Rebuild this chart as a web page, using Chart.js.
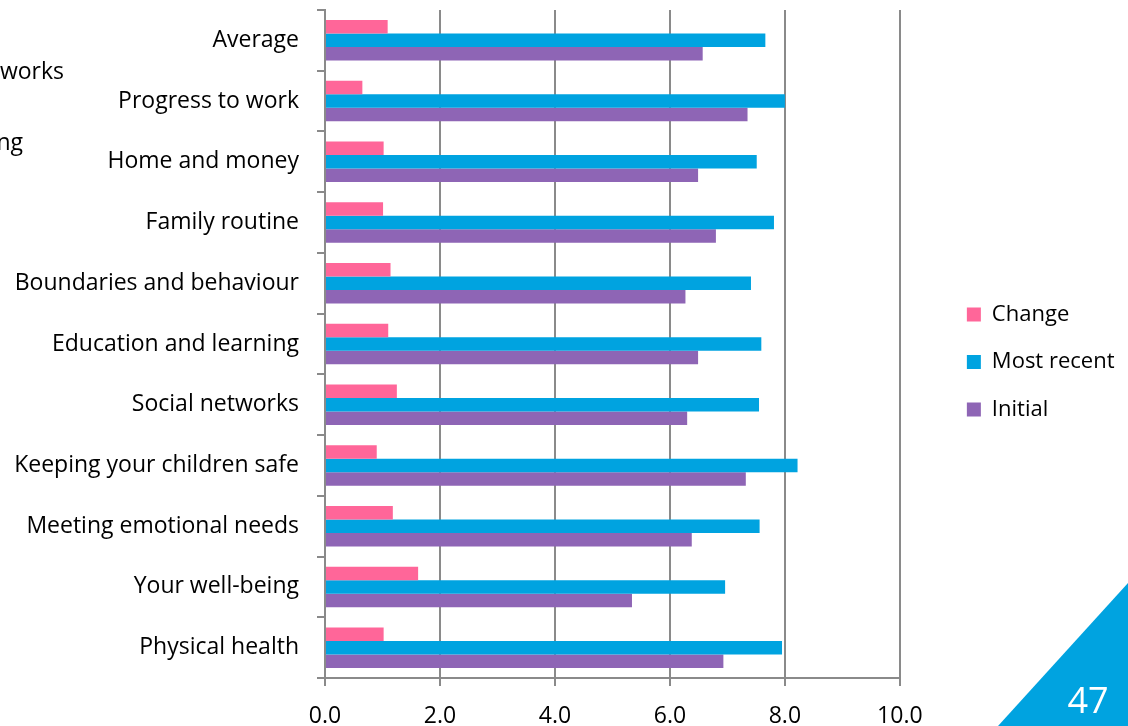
<!DOCTYPE html>
<html>
<head>
<meta charset="utf-8">
<script src="https://cdn.jsdelivr.net/npm/chart.js@4"></script>
<style>
  html, body { margin: 0; padding: 0; background: #fff; overflow: hidden; }
  #wrap { position: relative; width: 1128px; height: 726px; }
  #chart { position: absolute; left: 0; top: 0; }
  .stray { position: absolute; font-family: 'Open Sans', sans-serif; font-size: 23px; line-height: 30px; color: #000; text-align: right; white-space: nowrap; }
  #corner { position: absolute; left: 998px; top: 583px; width: 130px; height: 143px; background: #00a3e0; clip-path: polygon(100% 0, 100% 100%, 0 100%); }
  #page { position: absolute; left: 1060px; top: 678px; width: 56px; text-align: center; font-family: 'Open Sans', sans-serif; font-size: 36px; line-height: 44px; color: #fff; }
</style>
</head>
<body>
<div id="wrap">
  <canvas id="chart" width="1128" height="726"></canvas>
  <div class="stray" style="left:-300px; width:364px; top:55px;">Social networks</div>
  <div class="stray" style="left:-300px; width:323px; top:126px;">Education and learning</div>
  <div id="corner"></div>
  <div id="page">47</div>
</div>
<script>
// categorias de cima para baixo
const categories = ['Average', 'Progress to work', 'Home and money', 'Family routine',
    'Boundaries and behaviour', 'Education and learning', 'Social networks',
    'Keeping your children safe', 'Meeting emotional needs', 'Your well-being', 'Physical health'];

const changeValues = [1.09, 0.65, 1.02, 1.01, 1.14, 1.10, 1.25, 0.90, 1.18, 1.62, 1.02];
const mostRecentValues = [7.66, 8.00, 7.51, 7.81, 7.41, 7.59, 7.55, 8.22, 7.56, 6.96, 7.95];
const initialValues = [6.57, 7.35, 6.49, 6.80, 6.27, 6.49, 6.30, 7.32, 6.38, 5.34, 6.93];

const xMin = 0;
const xMax = 10;
const xStep = 2;

const axisGray = '#8a8a8a';

Chart.defaults.font.family = "'Open Sans', sans-serif";
Chart.defaults.color = '#000';

// eixo vazio, só para reservar espaço
const spacer = size => ({
    display: true,
    grid: { display: false },
    border: { display: false },
    ticks: { display: false },
    afterFit: axis => {
        if (axis.isHorizontal()) axis.height = size;
        else axis.width = size;
    }
});

const ctx = document.getElementById('chart').getContext('2d');
new Chart(ctx, {
    type: 'bar',
    data: {
        labels: categories,
        datasets: [
            { label: 'Change', data: changeValues, backgroundColor: '#ff6699' },
            { label: 'Most recent', data: mostRecentValues, backgroundColor: '#00a3e0' },
            { label: 'Initial', data: initialValues, backgroundColor: '#8e65b5' }
        ]
    },
    options: {
        indexAxis: 'y',
        responsive: false,
        animation: false,
        barPercentage: 1,
        categoryPercentage: 0.667,
        layout: { padding: { top: 0, right: 3.5, bottom: 2, left: 0 } },
        scales: {
            x: {
                min: xMin,
                max: xMax,
                grid: { color: axisGray, lineWidth: 2, tickLength: 8 },
                border: { color: axisGray, width: 2 },
                ticks: {
                    stepSize: xStep,
                    padding: 17,
                    font: { size: 23 },
                    callback: value => value.toFixed(1)
                },
                afterFit: axis => { axis.height = 46; }
            },
            y: {
                grid: { drawOnChartArea: false, color: axisGray, lineWidth: 2, tickLength: 8 },
                border: { color: axisGray, width: 2 },
                ticks: { padding: 18, font: { size: 23 } },
                afterFit: axis => {
                    axis.width = 325;
                    axis.paddingTop = 0;
                    axis.paddingBottom = 0;
                }
            },
            xTop: Object.assign({ type: 'linear', axis: 'x', position: 'top' }, spacer(10)),
            yGap: Object.assign({ type: 'category', axis: 'y', position: 'right' }, spacer(41.5))
        },
        plugins: {
            tooltip: { enabled: false },
            legend: {
                position: 'right',
                labels: {
                    boxWidth: 14,
                    boxHeight: 14,
                    padding: 25.5,
                    color: '#000',
                    font: { size: 22 }
                }
            }
        }
    }
});
</script>
</body>
</html>
